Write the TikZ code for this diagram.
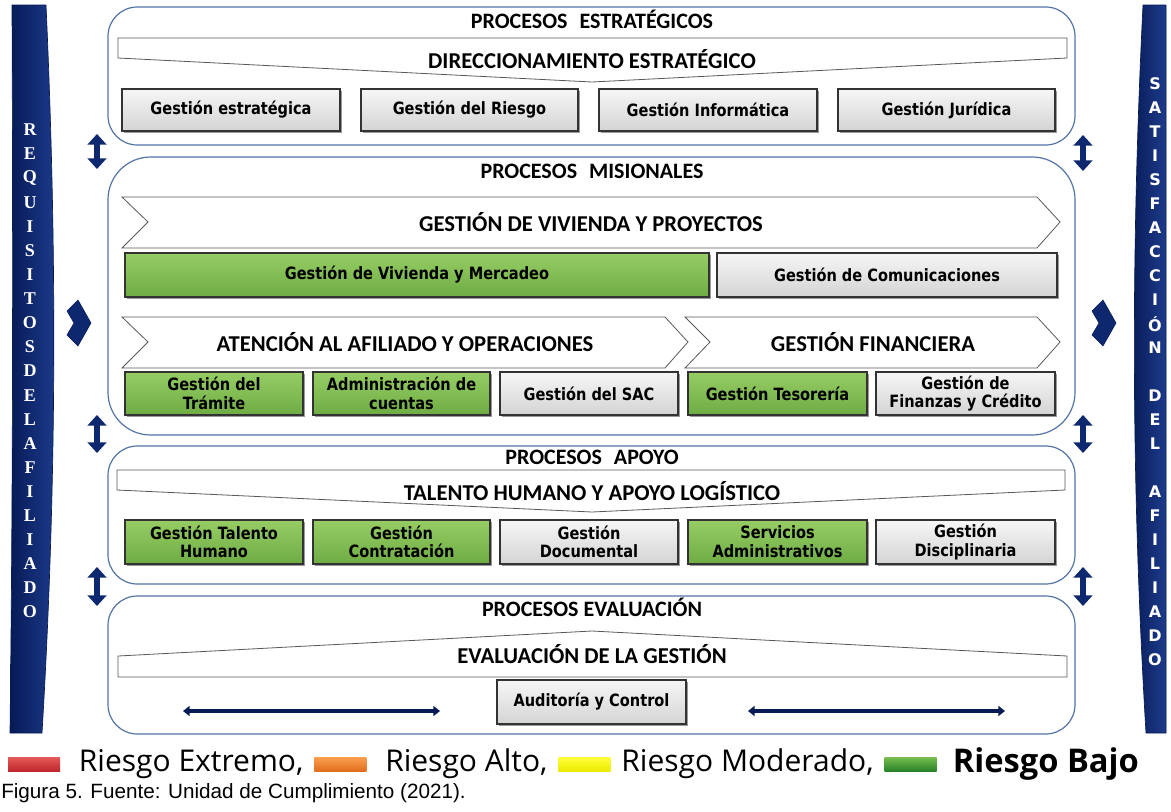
\documentclass[tikz,border=0pt]{standalone}
\usepackage{fontspec}
\setmainfont{DejaVu Sans}
\newfontfamily\boxf[FakeStretch=0.86]{DejaVu Sans}
\newfontfamily\titf{Carlito}
\newfontfamily\legf{Open Sans}
\newfontfamily\capf{Liberation Sans}
\newfontfamily\lserif{Liberation Serif}
\usetikzlibrary{shadows,arrows.meta}
\definecolor{navy}{RGB}{14,40,112}
\definecolor{navyd}{RGB}{6,26,86}
\definecolor{navyl}{RGB}{30,60,140}
\definecolor{pborder}{RGB}{84,116,165}
\definecolor{gtop}{RGB}{150,205,100}
\definecolor{gbot}{RGB}{110,172,68}
\definecolor{wtop}{RGB}{246,246,246}
\definecolor{wbot}{RGB}{212,212,212}
\definecolor{rtop}{RGB}{230,90,90}
\definecolor{rbot}{RGB}{190,40,45}
\definecolor{otop}{RGB}{250,160,80}
\definecolor{obot}{RGB}{225,110,30}
\definecolor{ytop}{RGB}{255,255,60}
\definecolor{ybot}{RGB}{235,235,0}
\definecolor{lgtop}{RGB}{120,190,80}
\definecolor{lgbot}{RGB}{40,130,40}
\newcommand\pbox[7]{\node[#1, minimum width={(#4-#2)*0.75pt}, minimum height={(#5-#3)*0.75pt}] (#6) at ({(#2+#4)/2},{(#3+#5)/2}) {#7};}
\begin{document}
\begin{tikzpicture}[x=0.75pt,y=-0.75pt,
 panel/.style={draw=pborder, line width=0.9pt, fill=white},
 banner/.style={draw=black!65, line width=0.6pt, fill=white},
 box/.style={draw=black!80, line width=1.1pt, align=center, inner sep=0pt, outer sep=0pt,
   font=\boxf\bfseries\fontsize{12.7}{14}\selectfont,
   drop shadow={shadow xshift=1.6pt, shadow yshift=-1.6pt, fill=black, opacity=0.4}},
 gbox/.style={box, top color=gtop, bottom color=gbot},
 wbox/.style={box, top color=wtop, bottom color=wbot},
 ttl/.style={font=\titf\bfseries\fontsize{16.5}{17}\selectfont},
 btxt/.style={font=\titf\bfseries\fontsize{17}{18}\selectfont},
 darr/.style={draw=navy, line width=5pt, {Triangle[width=14pt,length=8pt]}-{Triangle[width=14pt,length=8pt]}},
 harr/.style={draw=navyd, line width=3pt, {Triangle[width=7.5pt,length=5pt]}-{Triangle[width=7.5pt,length=5pt]}},
 lltr/.style={font=\lserif\bfseries\fontsize{13.5}{14}\selectfont, text=white},
 rltr/.style={font=\bfseries\fontsize{12}{12}\selectfont, text=white},
 chev/.style={fill=navy, draw=navyd, line width=0.4pt},
 sw/.style={draw=none, minimum width=39pt, minimum height=10.5pt, inner sep=0pt, outer sep=0pt},
 leg/.style={anchor=west, inner sep=0pt, font=\legf\fontsize{22.5}{24}\selectfont},
]
\useasboundingbox (0,0) rectangle (1171,811);
\fill[white] (0,0) rectangle (1171,811);

% side bars
\path[left color=navyd, right color=navyl, draw=navyd, line width=0.5pt]
  (12,5) -- (46,5) .. controls (57,250) and (57,480) .. (42,733) -- (10,733) .. controls (13,480) and (13,250) .. cycle;
\path[left color=navyd, right color=navyl, draw=navyd, line width=0.5pt]
  (1143,5) -- (1166,5) -- (1166,733) -- (1146,733) .. controls (1131,480) and (1131,250) .. cycle;

\foreach \l [count=\i] in {R,E,Q,U,I,S,I,T,O,S,D,E,L,A,F,I,L,I,A,D,O}
  \node[lltr] (L\i) at (30,{130+24.1*(\i-1)}) {\l};
\foreach \l/\k in {S/0,A/1,T/2,I/3,S/4,F/5,A/6,C/7,C/8,I/9,Ó/10,N/11,D/13,E/14,L/15,A/17,F/18,I/19,L/20,I/21,A/22,D/23,O/24}
  \node[rltr] (R\k) at (1155,{84+24*\k}) {\l};

% panels
\draw[panel, rounded corners=22pt] (108,7) rectangle (1075,145);
\draw[panel, rounded corners=32pt] (108,157) rectangle (1075,435);
\draw[panel, rounded corners=22pt] (108,446) rectangle (1075,584);
\draw[panel, rounded corners=22pt] (108,596) rectangle (1075,734);

% titles
\node[ttl] (t1) at (592,19) {PROCESOS\hspace{9pt}ESTRATÉGICOS};
\node[ttl] (t2) at (592,171) {PROCESOS\hspace{9pt}MISIONALES};
\node[ttl] (t3) at (592,457) {PROCESOS\hspace{9pt}APOYO};
\node[ttl] (t4) at (592,607) {PROCESOS EVALUACIÓN};

% banners
\draw[banner] (118,38) -- (1067,38) -- (1067,58) -- (592,82) -- (118,58) -- cycle;
\node[btxt] (b1) at (592,59) {DIRECCIONAMIENTO ESTRATÉGICO};
\draw[banner] (122,197) -- (1037,197) -- (1060,222) -- (1037,248) -- (122,248) -- (148,222) -- cycle;
\node[btxt] (b2) at (591,222) {GESTIÓN DE VIVIENDA Y PROYECTOS};
\draw[banner] (122,317) -- (665,317) -- (688,342) -- (665,368) -- (122,368) -- (148,342) -- cycle;
\node[btxt] (b3) at (405,342) {ATENCIÓN AL AFILIADO Y OPERACIONES};
\draw[banner] (685,317) -- (1037,317) -- (1060,342) -- (1037,368) -- (685,368) -- (710,342) -- cycle;
\node[btxt] (b4) at (873,342) {GESTIÓN FINANCIERA};
\draw[banner] (117,470) -- (1065,470) -- (1065,490) -- (592,512) -- (117,490) -- cycle;
\node[btxt] (b5) at (592,491) {TALENTO HUMANO Y APOYO LOGÍSTICO};
\draw[banner] (118,677) -- (1067,677) -- (1067,656) -- (592,631) -- (118,656) -- cycle;
\node[btxt] (b6) at (592,654) {EVALUACIÓN DE LA GESTIÓN};

% boxes
\pbox{wbox}{122}{89}{340}{131}{e1}{Gestión estratégica}
\pbox{wbox}{361}{89}{578}{131}{e2}{Gestión del Riesgo}
\pbox{wbox}{599}{89}{817}{131}{e3}{Gestión Informática}
\pbox{wbox}{838}{89}{1055}{131}{e4}{Gestión Jurídica}

\pbox{gbox}{125}{253}{709}{297}{m1}{Gestión de Vivienda y Mercadeo}
\pbox{wbox}{717}{253}{1057}{297}{m2}{Gestión de Comunicaciones}

\pbox{gbox}{125}{372}{303}{415}{m3}{Gestión del\\Trámite}
\pbox{gbox}{313}{372}{490}{415}{m4}{Administración de\\cuentas}
\pbox{wbox}{500}{372}{678}{415}{m5}{Gestión del SAC}
\pbox{gbox}{688}{372}{867}{415}{m6}{Gestión Tesorería}
\pbox{wbox}{876}{372}{1055}{415}{m7}{Gestión de\\Finanzas y Crédito}

\pbox{gbox}{125}{520}{303}{564}{a1}{Gestión Talento\\Humano}
\pbox{gbox}{313}{520}{490}{564}{a2}{Gestión\\Contratación}
\pbox{wbox}{500}{520}{678}{564}{a3}{Gestión\\Documental}
\pbox{gbox}{688}{520}{867}{564}{a4}{Servicios\\Administrativos}
\pbox{wbox}{876}{520}{1055}{564}{a5}{Gestión\\Disciplinaria}

\pbox{wbox}{497}{680}{686}{724}{v1}{Auditoría y Control}

% vertical double arrows
\coordinate (la1) at (97,134); \coordinate (lb1) at (97,169);
\coordinate (la2) at (97,415); \coordinate (lb2) at (97,453);
\coordinate (la3) at (97,567); \coordinate (lb3) at (97,606);
\coordinate (ra1) at (1083,135); \coordinate (rb1) at (1083,171);
\coordinate (ra2) at (1083,415); \coordinate (rb2) at (1083,453);
\coordinate (ra3) at (1083,567); \coordinate (rb3) at (1083,606);
\foreach \s in {la1/lb1,la2/lb2,la3/lb3,ra1/rb1,ra2/rb2,ra3/rb3}{
  \foreach \p/\q in \s {\draw[darr] (\p) -- (\q);}
}

% horizontal double arrows
\coordinate (h1a) at (183,711); \coordinate (h1b) at (440,711);
\coordinate (h2a) at (748,711); \coordinate (h2b) at (1005,711);
\draw[harr] (h1a) -- (h1b);
\draw[harr] (h2a) -- (h2b);

% chevrons
\path[chev] (67,311) -- (78,300) -- (91,323) -- (78,346) -- (67,335) -- (74,323) -- cycle;
\path[chev] (1092,311) -- (1103,300) -- (1116,323) -- (1103,346) -- (1092,335) -- (1099,323) -- cycle;

% legend
\node[sw, top color=rtop, bottom color=rbot] (s1) at (34,764) {};
\node[leg] (g1) at ([xshift=14pt]s1.east) {Riesgo Extremo,};
\node[sw, top color=otop, bottom color=obot, anchor=west] (s2) at ([xshift=8pt]g1.east) {};
\node[leg] (g2) at ([xshift=14pt]s2.east) {Riesgo Alto,};
\node[sw, top color=ytop, bottom color=ybot, anchor=west] (s3) at ([xshift=8pt]g2.east) {};
\node[leg] (g3) at ([xshift=8pt]s3.east) {Riesgo Moderado,};
\node[sw, top color=lgtop, bottom color=lgbot, anchor=west] (s4) at ([xshift=8pt]g3.east) {};
\node[leg, font=\legf\bfseries\fontsize{24.5}{26}\selectfont] (g4) at ([xshift=12pt]s4.east) {Riesgo Bajo};

\node[anchor=west, inner sep=0pt, font=\capf\fontsize{15.5}{17}\selectfont] (cap) at (1,793) {Figura 5. Fuente: Unidad de Cumplimiento (2021).};
\end{tikzpicture}
\end{document}
